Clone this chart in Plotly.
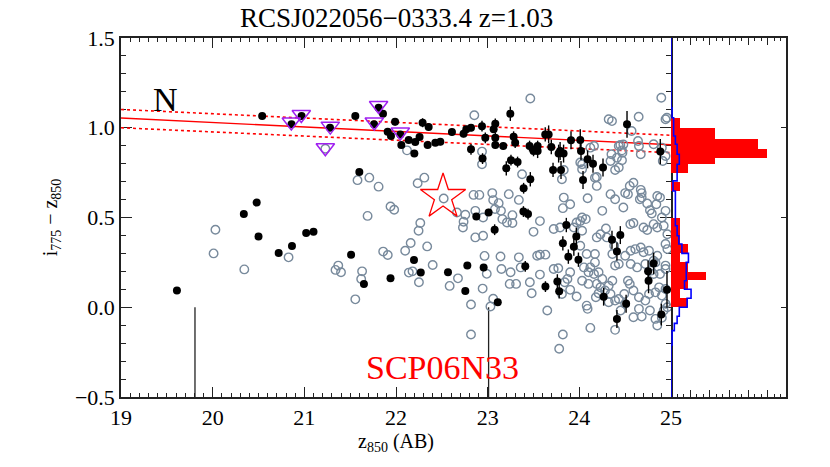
import plotly.graph_objects as go

# ---- data ----
# red-sequence members (filled black) with colour errors
member_mag = [19.61, 20.34, 20.48, 20.50, 20.54, 20.72, 20.865, 20.86, 20.97, 21.02, 21.10, 21.28,
              21.51, 21.556, 21.60, 21.65, 21.76, 21.81, 21.858, 21.909, 21.94, 21.945, 21.99,
              22.047, 22.058, 22.138, 22.196, 22.20, 22.21, 22.257, 22.27, 22.29, 22.345, 22.356,
              22.429, 22.483, 22.567, 22.61, 22.737, 22.756, 22.767, 22.778, 22.818, 22.818,
              22.876, 22.938, 22.944, 22.956, 22.974, 23.01, 23.065, 23.076, 23.083, 23.083,
              23.083, 23.11, 23.17, 23.247, 23.203, 23.254, 23.283, 23.30, 23.326, 23.392, 23.39,
              23.41, 23.44, 23.457, 23.465, 23.50, 23.545, 23.545, 23.628, 23.63, 23.665, 23.694,
              23.713, 23.76, 23.774, 23.78, 23.79, 23.80, 23.82, 23.828, 23.858, 23.88, 23.909,
              23.94, 23.967, 23.99, 24.01, 24.018, 24.04, 24.09, 24.149, 24.258, 24.265, 24.356,
              24.41, 24.447, 24.41, 24.51, 24.52, 24.75, 24.755, 24.81, 24.883, 24.894, 24.956]
member_col = [0.094, 0.519, 0.583, 0.394, 1.065, 0.302, 0.341, 1.019, 1.065, 0.413, 0.420, 1.000,
              0.293, 1.065, 0.754, 0.130, 1.019, 1.111, 1.078, 0.978, 0.161, 0.954, 1.033,
              0.963, 0.904, 0.932, 0.263, 0.856, 0.921, 0.948, 0.193, 1.028, 0.904, 1.004,
              0.917, 0.922, 0.195, 0.976, 0.967, 0.091, 0.991, 0.232, 1.000, 0.880,
              0.506, 1.009, 0.828, 0.222, 0.944, 0.528, 0.991, 0.432, 1.022, 0.944,
              0.904, 0.028, 0.898, 1.078, 0.774, 0.819, 0.950, 0.917, 0.809, 0.663, 0.533,
              0.228, 0.519, 0.898, 0.713, 0.871, 0.871, 0.898, 0.963, 0.115, 0.963, 0.893,
              0.765, 0.144, 0.856, 0.089, 0.870, 0.765, 0.356, 0.856, 0.458, 0.282, 0.930,
              0.337, 0.394, 0.265, 0.932, 0.871, 0.709, 0.824, 0.800, 0.778, 0.059, 0.376,
              0.311, 0.402, -0.065, 0.019, 1.019, 0.200, 0.148, 0.244, 0.867, -0.041, 0.097]
member_err = [0, 0, 0, 0, 0, 0, 0, 0, 0, 0, 0, 0,
              0, 0, 0, 0, 0, 0, 0, 0, 0, 0, 0.02,
              0, 0, 0, 0, 0, 0, 0, 0, 0.025, 0, 0.02,
              0, 0.02, 0, 0.02, 0.02, 0, 0.02, 0, 0.02, 0.03,
              0, 0.03, 0.03, 0, 0.03, 0.02, 0.02, 0.03, 0.03, 0.03,
              0.02, 0, 0.02, 0.04, 0.04, 0.03, 0.03, 0.03, 0.03, 0.03, 0.03,
              0.03, 0.03, 0.03, 0.04, 0.03, 0.04, 0.03, 0.04, 0.03, 0.05, 0.04,
              0.04, 0.04, 0.05, 0.04, 0.05, 0.05, 0.04, 0.05, 0.04, 0.04, 0.05,
              0.05, 0.05, 0.04, 0.06, 0.05, 0.05, 0.05, 0.05, 0.05, 0.05, 0.05,
              0.05, 0.05, 0.05, 0.05, 0.075, 0.06, 0.07, 0.06, 0.07, 0.06, 0.10]

# other galaxies (open grey circles)
field_mag = [20.01, 20.03, 20.345, 20.828, 21.229, 21.34, 21.37, 21.40, 21.556, 21.58, 21.62, 21.63,
             21.69, 21.709, 21.81, 21.86, 21.91, 21.94, 21.98, 22.10, 22.12, 22.14, 22.16, 22.18,
             22.236, 22.246, 22.25, 22.265, 22.309, 22.34, 22.40, 22.52, 22.585, 22.665, 22.676,
             22.73, 22.737, 22.756, 22.818, 22.818, 22.846, 22.854, 22.865, 22.865, 22.909, 22.938,
             22.938, 22.945, 22.95, 22.95, 22.966, 22.99, 23.03, 23.05, 23.06, 23.06, 23.08, 23.12,
             23.14, 23.145, 23.15, 23.16, 23.21, 23.23, 23.24, 23.25, 23.27, 23.27, 23.31, 23.34,
             23.34, 23.36, 23.375, 23.46, 23.465, 23.48, 23.50, 23.54, 23.57, 23.57, 23.57, 23.63,
             23.65, 23.72, 23.72, 23.77, 23.78, 23.79, 23.81, 23.81, 23.82, 23.82, 23.83, 23.83,
             23.84, 23.87, 23.90, 23.90, 23.90, 23.94, 23.97, 23.97, 24.01, 24.01, 24.01, 24.03,
             24.03, 24.03, 24.03, 24.03, 24.05, 24.07, 24.08, 24.08, 24.09, 24.09, 24.10, 24.10,
             24.12, 24.12, 24.12, 24.16, 24.16, 24.17, 24.17, 24.17, 24.18, 24.19, 24.19, 24.19,
             24.19, 24.21, 24.21, 24.23, 24.23, 24.25, 24.25, 24.28, 24.29, 24.30, 24.32, 24.32,
             24.32, 24.34, 24.34, 24.34, 24.35, 24.356, 24.36, 24.36, 24.38, 24.39, 24.39, 24.39,
             24.39, 24.39, 24.41, 24.43, 24.43, 24.43, 24.43, 24.447, 24.45, 24.465, 24.465, 24.47,
             24.48, 24.48, 24.49, 24.50, 24.50, 24.50, 24.53, 24.53, 24.55, 24.55, 24.556, 24.56,
             24.56, 24.57, 24.59, 24.59, 24.59, 24.59, 24.61, 24.63, 24.64, 24.647, 24.65, 24.65,
             24.65, 24.66, 24.67, 24.67, 24.67, 24.68, 24.68, 24.68, 24.70, 24.70, 24.72, 24.72,
             24.74, 24.74, 24.76, 24.76, 24.77, 24.77, 24.78, 24.79, 24.81, 24.81, 24.81, 24.81,
             24.83, 24.83, 24.83, 24.84, 24.85, 24.85, 24.85, 24.85, 24.87, 24.88, 24.88, 24.894,
             24.90, 24.90, 24.90, 24.90, 24.91, 24.92, 24.92, 24.94, 24.94, 24.94, 24.94, 24.94,
             24.94, 24.94, 24.94, 24.955, 24.96, 24.96, 24.96]
field_col = [0.300, 0.432, 0.211, 0.278, 0.883, 0.208, 0.232, 0.195, 0.044, 0.708, 0.158, 0.200,
             0.509, 0.722, 0.672, 0.310, 0.291, 0.561, 0.543, 0.315, 0.874, 0.193, 0.358, 0.200,
             0.691, 0.426, 0.139, 0.469, 0.722, 0.339, 0.235, 0.606, 0.119, 0.528, 0.161,
             0.444, 0.476, 0.515, 0.015, -0.152, 0.626, 1.070, 0.537, 0.389, 0.626, 0.867,
             0.797, 0.104, 0.500, 0.398, 0.286, 0.186, 0.004, 0.636, 0.597, 0.047, 0.547, 0.580,
             0.283, 0.537, 0.213, 0.491, 0.472, 0.630, 0.130, 0.195, 0.513, 0.469, 0.130, 0.598,
             0.278, 0.222, 0.741, 0.139, 1.163, 0.078, 0.420, 0.287, 0.480, 0.182, 0.293, 0.293,
             -0.018, 0.436, 0.213, 0.217, -0.231, 0.444, 0.713, 0.074, 0.552, -0.152, 0.765, 0.611,
             0.139, 0.158, 0.574, 0.097, 0.195, 0.444, 0.472, 0.060, 0.806, 0.480, 0.343, 0.797,
             0.769, 0.500, 0.426, 0.148, 0.222, 0.491, 0.297, 0.009, 0.607, -0.009, 0.195, 0.130,
             0.889, 0.222, -0.115, 0.898, 0.185, 0.722, 0.297, 0.250, 0.056, 0.726, 0.676, 0.389,
             0.130, 0.195, 0.078, 0.407, 0.111, 0.537, 0.158, 0.093, 0.439, 0.389, 1.047, 0.120,
             0.028, 0.815, 0.630, 0.074, 0.852, 1.037, 0.297, 0.148, 0.343, 0.765, 0.602, 0.232,
             0.037, -0.126, 0.833, 0.898, 0.778, 0.241, 0.046, 0.904, -0.018, 0.874, 0.819, 0.861,
             0.907, 0.556, 0.074, 0.636, 0.287, 0.019, 0.630, 0.148, 0.676, 0.130, 0.463, 0.315,
             0.241, 0.982, 0.694, 0.469, 0.093, -0.056, 0.324, 0.222, 0.926, 1.061, 0.898, 0.056,
             -0.009, 0.602, 0.852, 0.654, 0.333, 0.611, 0.636, -0.052, 0.444, 0.306, 0.241, 0.037,
             0.578, 0.430, 0.315, 0.074, 0.541, -0.018, 0.204, 0.522, 0.908, 0.463, 0.259, 0.185,
             0.250, 0.083, -0.065, 0.574, 0.620, 0.444, 0.287, -0.102, 0.111, 0.611, 0.185, 1.167,
             0.889, 0.500, 0.065, -0.059, 0.815, 0.454, -0.018, 1.047, 0.843, 0.537, 0.352, 0.232,
             0.213, 0.102, 0.019, 1.056, 0.407, 0.324, 0.000]

# spectroscopic members (purple triangles)
spec_mag = [20.858, 20.967, 21.283, 21.229, 21.81, 21.763, 22.047]
spec_col = [1.032, 1.074, 1.009, 0.889, 1.124, 1.032, 0.976]

# supernova host
host_mag = [22.513]
host_col = [0.615]

# red-sequence fit and scatter band
fit_mag = [19.0, 25.0]
fit_col = [1.054, 0.905]
fit_hi = [1.102, 0.958]
fit_lo = [1.000, 0.861]

# off-scale error bars reaching the bottom of the plot
drop_mag = [19.807, 19.807, None, 23.01, 23.01]
drop_col = [0.0, -0.5, None, 0.0, -0.5]

# colour histogram of red-sequence members (filled red)
red_edges = [1.055, 1.0, 0.94, 0.88, 0.83, 0.80, 0.75, 0.70, 0.65, 0.50, 0.45, 0.40, 0.35,
             0.30, 0.25, 0.195, 0.15, 0.10, 0.05, 0.0]
red_counts = [1, 5, 10, 11, 5, 2, 0, 1, 0, 1, 1, 1, 2, 1, 2, 4, 2, 1, 2]

# colour histogram of all galaxies (blue outline, scaled)
blue_edges = [1.5, 1.11, 1.056, 0.954, 0.908, 0.852, 0.797, 0.704, 0.648, 0.454, 0.398, 0.352,
              0.30, 0.25, 0.148, 0.10, 0.05, 0.0, -0.05, -0.09, -0.13, -0.21, -0.5]
blue_counts = [0, 0.12, 0.3, 0.5, 0.7, 0.95, 0.7, 0.23, 0.5, 0.7, 0.9, 1.25, 2.0, 1.75, 1.55,
               2.3, 1.85, 0.95, 0.7, 0.38, 0.12, 0]

FONT = "Liberation Serif"
AXC = "#222222"

fig = go.Figure()

# histograms on the side panel
bar_y = [(a + b) / 2 for a, b in zip(red_edges[:-1], red_edges[1:])]
bar_w = [a - b for a, b in zip(red_edges[:-1], red_edges[1:])]
fig.add_trace(go.Bar(x=red_counts, y=bar_y, width=bar_w, orientation="h", base=0,
                     marker=dict(color="#ff0000", line=dict(width=0)),
                     xaxis="x2", yaxis="y2", showlegend=False, hoverinfo="skip"))

step_x, step_y = [], []
for i, c in enumerate(blue_counts):
    step_x += [c, c]
    step_y += [blue_edges[i], blue_edges[i + 1]]
fig.add_trace(go.Scatter(x=step_x, y=step_y, mode="lines",
                         line=dict(color="#0000ff", width=1.6),
                         xaxis="x2", yaxis="y2", showlegend=False, hoverinfo="skip"))

# fit lines
fig.add_trace(go.Scatter(x=fit_mag, y=fit_col, mode="lines",
                         line=dict(color="#ff0000", width=1.4), showlegend=False))
for band in (fit_hi, fit_lo):
    fig.add_trace(go.Scatter(x=fit_mag, y=band, mode="lines",
                             line=dict(color="#ff0000", width=1.6, dash="dot"), showlegend=False))

fig.add_trace(go.Scatter(x=drop_mag, y=drop_col, mode="lines",
                         line=dict(color="#222222", width=1.3), showlegend=False))

fig.add_trace(go.Scatter(x=field_mag, y=field_col, mode="markers",
                         marker=dict(symbol="circle-open", size=8.5,
                                     color="#788a9c", line=dict(width=1.4, color="#788a9c")),
                         showlegend=False))

fig.add_trace(go.Scatter(x=member_mag, y=member_col, mode="markers",
                         marker=dict(symbol="circle", size=8, color="black"),
                         error_y=dict(type="data", array=member_err, color="black",
                                      thickness=1.4, width=0),
                         showlegend=False))

fig.add_trace(go.Scatter(x=spec_mag, y=spec_col, mode="markers",
                         marker=dict(symbol="triangle-down-open", size=16,
                                     color="#a020f0", line=dict(width=1.5, color="#a020f0")),
                         showlegend=False))

fig.add_trace(go.Scatter(x=host_mag, y=host_col, mode="markers",
                         marker=dict(symbol="star-open", size=34,
                                     color="#ff0000", line=dict(width=1.3, color="#ff0000")),
                         showlegend=False))

split = 0.8271
# the page body adds an 8px offset, so the margins are shifted to compensate
fig.update_layout(
    width=830, height=467,
    paper_bgcolor="white", plot_bgcolor="white",
    margin=dict(l=113, r=52, t=30, b=78),
    font=dict(family=FONT, size=22, color="black"),
    showlegend=False,
    bargap=0,
    xaxis=dict(domain=[0, split], range=[19, 25], dtick=1, tick0=19,
               ticks="inside", ticklen=10, tickwidth=1.4, tickcolor=AXC,
               minor=dict(dtick=0.1, ticks="inside", ticklen=4, tickwidth=1.2, tickcolor=AXC),
               showline=True, linecolor=AXC, linewidth=1.6, mirror="ticks",
               showgrid=False, zeroline=False, layer="below traces",
               tickfont=dict(size=22, family=FONT),
               title=dict(text="z<sub>850</sub> (AB)", font=dict(size=20, family=FONT), standoff=4)),
    yaxis=dict(range=[-0.5, 1.5], dtick=0.5, tick0=0, tickformat=".1f",
               ticks="inside", ticklen=11, tickwidth=1.4, tickcolor=AXC,
               minor=dict(dtick=0.1, ticks="inside", ticklen=5.5, tickwidth=1.2, tickcolor=AXC),
               showline=True, linecolor=AXC, linewidth=1.6, mirror="ticks",
               showgrid=False, zeroline=False, layer="below traces",
               tickfont=dict(size=22, family=FONT),
               title=dict(text="i<sub>775</sub> − z<sub>850</sub>", font=dict(size=20, family=FONT),
                          standoff=12)),
    xaxis2=dict(domain=[split, 1], range=[0, 13.2], anchor="y2", dtick=2.22, tick0=0,
                showticklabels=False, ticks="inside", ticklen=7, tickwidth=1.3, tickcolor=AXC,
                minor=dict(dtick=0.74, ticks="inside", ticklen=3.5, tickwidth=1.1, tickcolor=AXC),
                showline=True, linecolor=AXC, linewidth=1.6, mirror="ticks",
                showgrid=False, zeroline=False),
    yaxis2=dict(domain=[0, 1], anchor="x2", matches="y", side="right",
                showticklabels=False, ticks="inside", ticklen=5, tickwidth=1.3, tickcolor=AXC,
                dtick=0.5, tick0=0,
                showline=True, linecolor=AXC, linewidth=1.6, mirror=False,
                showgrid=False, zeroline=False),
)

fig.add_annotation(text="RCSJ022056−0333.4 z=1.03", xref="x domain", yref="paper",
                   x=0.5, y=1, yshift=3, xanchor="center", yanchor="bottom",
                   showarrow=False, font=dict(size=27, family=FONT))
fig.add_annotation(text="N", x=19.49, y=1.16, showarrow=False,
                   font=dict(size=34, family=FONT, color="black"))
fig.add_annotation(text="SCP06N33", x=22.51, y=-0.338, showarrow=False,
                   font=dict(size=34, family=FONT, color="#ff0000"))

fig.write_html("out.html")
